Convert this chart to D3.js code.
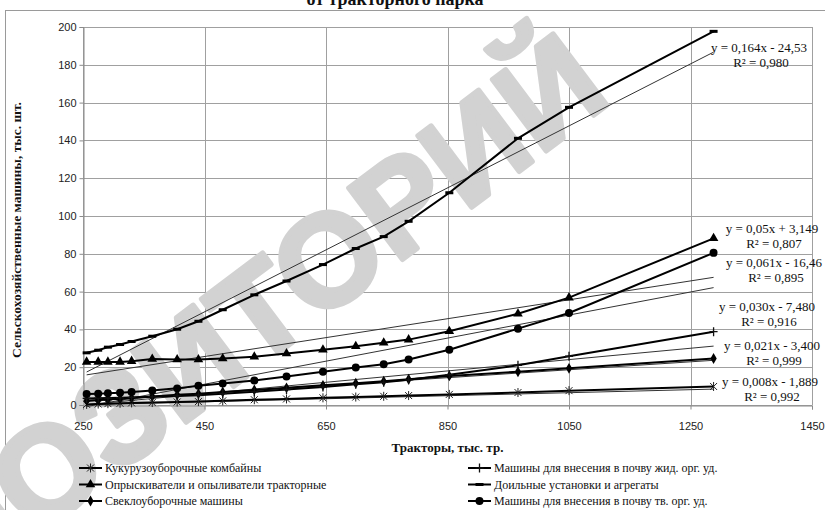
<!DOCTYPE html>
<html>
<head>
<meta charset="utf-8">
<script src="https://cdn.jsdelivr.net/npm/d3@7"></script>
<style>
  html, body { margin: 0; padding: 0; background: #fff; }
  svg { display: block; }
  .tick-label { font-family: 'Liberation Sans', Arial, sans-serif; font-size: 11px; fill: #222; }
  .serif { font-family: 'Liberation Serif', 'Times New Roman', serif; fill: #111; }
</style>
</head>
<body>
<div id="chart"></div>
<script>
// данные: тракторы (тыс.) и машины (тыс. шт.)
const tractors = [256, 275, 291, 311, 330, 364, 405, 440, 480, 532, 585, 645, 699, 745, 786, 853, 966, 1050, 1288];

const cornHarvesters = [0.3, 0.5, 0.7, 0.9, 1.1, 1.3, 1.6, 1.8, 2.2, 2.8, 3.2, 3.8, 4.2, 4.6, 5.0, 5.6, 6.6, 7.6, 9.8];
const sprayers = [22.8, 22.8, 22.8, 22.8, 23.2, 24.3, 24.1, 24.1, 24.6, 25.5, 27.2, 29.2, 31.1, 32.9, 34.6, 39.0, 48.3, 56.8, 88.2];
const beetHarvesters = [2.3, 2.6, 2.9, 3.3, 3.7, 4.5, 5.4, 6.0, 6.9, 8.0, 9.1, 10.4, 11.5, 12.6, 13.6, 15.4, 17.6, 19.4, 24.6];
const liquidSpreaders = [3.5, 3.6, 3.7, 3.8, 4.0, 4.3, 4.8, 5.2, 6.0, 7.0, 8.2, 9.5, 11.0, 12.0, 13.3, 16.0, 21.0, 25.8, 38.8];
const milkingUnits = [27.6, 29.0, 30.6, 32.0, 33.6, 36.4, 40.1, 44.3, 50.4, 58.3, 65.6, 74.3, 82.8, 89.1, 97.2, 112.3, 141.1, 157.5, 197.7];
const solidSpreaders = [5.8, 6.0, 6.2, 6.5, 6.9, 7.7, 8.8, 10.2, 11.4, 13.0, 15.1, 17.6, 19.9, 21.6, 24.1, 29.2, 40.4, 48.7, 80.5];

const seriesNames = [
  'Кукурузоуборочные комбайны',
  'Опрыскиватели и опыливатели тракторные',
  'Свеклоуборочные машины',
  'Машины для внесения в почву жид. орг. уд.',
  'Доильные установки и агрегаты',
  'Машины для внесения в почву тв. орг. уд.',
];
const seriesMarkers = ['star', 'triangle', 'diamond', 'plus', 'dash', 'circle'];

// линейные тренды (как подписаны на графике)
const trendSlope = [0.008, 0.05, 0.021, 0.03, 0.164, 0.061];
const trendIntercept = [-1.889, 3.149, -3.4, -7.48, -24.53, -16.46];
const trendEquation = [
  'y = 0,008x - 1,889',
  'y = 0,05x + 3,149',
  'y = 0,021x - 3,400',
  'y = 0,030x - 7,480',
  'y = 0,164x - 24,53',
  'y = 0,061x - 16,46',
];
const trendR2 = ['R² = 0,992', 'R² = 0,807', 'R² = 0,999', 'R² = 0,916', 'R² = 0,980', 'R² = 0,895'];

const xTicks = [250, 450, 650, 850, 1050, 1250, 1450];
const yTicks = [0, 20, 40, 60, 80, 100, 120, 140, 160, 180, 200];

const values = [cornHarvesters, sprayers, beetHarvesters, liquidSpreaders, milkingUnits, solidSpreaders];

const W = 825, H = 510;
const plot = { left: 83, right: 812, top: 27, bottom: 405 };

// размещение подписей уравнений
const eqPos = [[770, 382], [772, 229], [772, 346], [767, 307], [759, 48], [774, 263]];

const svg = d3
  .select('#chart')
  .append('svg')
  .attr('width', W)
  .attr('height', H);

const x = d3.scaleLinear().domain([250, 1450]).range([plot.left, plot.right]);
const y = d3.scaleLinear().domain([0, 200]).range([plot.bottom, plot.top]);

// рамка диаграммы
svg
  .append('rect')
  .attr('x', 5.5)
  .attr('y', 10.5)
  .attr('width', 830)
  .attr('height', 520)
  .attr('fill', 'none')
  .attr('stroke', '#9a9a9a');

// обрезанный заголовок
svg
  .append('text')
  .attr('class', 'serif')
  .attr('x', 395)
  .attr('y', 5)
  .attr('text-anchor', 'middle')
  .style('font-size', '18px')
  .style('font-weight', 'bold')
  .text('от тракторного парка');

// сетка
const grid = svg.append('g').attr('class', 'grid');
grid
  .selectAll('line.h')
  .data(yTicks)
  .enter()
  .append('line')
  .attr('class', 'h')
  .attr('x1', plot.left)
  .attr('x2', plot.right)
  .attr('y1', (d) => Math.round(y(d)) + 0.5)
  .attr('y2', (d) => Math.round(y(d)) + 0.5)
  .attr('stroke', '#a0a0a0');
grid
  .selectAll('line.v')
  .data(xTicks)
  .enter()
  .append('line')
  .attr('class', 'v')
  .attr('x1', (d) => Math.round(x(d)) + 0.5)
  .attr('x2', (d) => Math.round(x(d)) + 0.5)
  .attr('y1', plot.top)
  .attr('y2', plot.bottom)
  .attr('stroke', '#a0a0a0');

// водяной знак
svg
  .append('text')
  .attr('transform', 'translate(614,100) rotate(-37)')
  .attr('text-anchor', 'end')
  .style('font-family', "'Liberation Sans', Arial, sans-serif")
  .style('font-weight', 'bold')
  .style('font-size', '130px')
  .attr('fill', '#d2d2d2')
  .attr('stroke', '#d2d2d2')
  .attr('stroke-width', 5)
  .attr('stroke-linejoin', 'round')
  .text('РЕПОЗИТОРИЙ');

// оси
const yAxis = svg
  .append('g')
  .attr('transform', `translate(${plot.left + 0.5},0)`)
  .call(d3.axisLeft(y).tickValues(yTicks).tickSize(4).tickPadding(3));
const xAxis = svg
  .append('g')
  .attr('transform', `translate(0,${plot.bottom + 0.5})`)
  .call(d3.axisBottom(x).tickValues(xTicks).tickFormat(d3.format('d')).tickSize(4).tickPadding(13));
[yAxis, xAxis].forEach((a) => {
  a.select('.domain').attr('stroke', '#8a8a8a');
  a.selectAll('.tick line').attr('stroke', '#8a8a8a');
  a.selectAll('.tick text')
    .attr('class', 'tick-label')
    .attr('fill', null);
});

// линии трендов
const trends = svg.append('g').attr('class', 'trends');
trendSlope.forEach((k, i) => {
  const x0 = d3.min(tractors),
    x1 = d3.max(tractors);
  trends
    .append('line')
    .attr('x1', x(x0))
    .attr('y1', y(k * x0 + trendIntercept[i]))
    .attr('x2', x(x1))
    .attr('y2', y(k * x1 + trendIntercept[i]))
    .attr('stroke', '#333')
    .attr('stroke-width', 1);
});

// маркеры
const drawMarker = (g, type, cx, cy) => {
  if (type === 'star') {
    g.append('path')
      .attr('d', `M${cx - 3.5},${cy - 3.5}L${cx + 3.5},${cy + 3.5}M${cx - 3.5},${cy + 3.5}L${cx + 3.5},${cy - 3.5}M${cx},${cy - 4.5}L${cx},${cy + 4.5}`)
      .attr('stroke', '#222')
      .attr('stroke-width', 1);
  } else if (type === 'plus') {
    g.append('path')
      .attr('d', `M${cx - 4},${cy}L${cx + 4},${cy}M${cx},${cy - 4.5}L${cx},${cy + 4.5}`)
      .attr('stroke', '#111')
      .attr('stroke-width', 1.3);
  } else if (type === 'dash') {
    g.append('rect')
      .attr('x', cx - 4)
      .attr('y', cy - 1.5)
      .attr('width', 8)
      .attr('height', 3)
      .attr('fill', '#000');
  } else {
    const sym = { triangle: d3.symbolTriangle, diamond: d3.symbolDiamond, circle: d3.symbolCircle }[type];
    const size = { triangle: 40, diamond: 34, circle: 50 }[type];
    g.append('path')
      .attr('transform', `translate(${cx},${cy})`)
      .attr('d', d3.symbol().type(sym).size(size)())
      .attr('fill', '#000');
  }
};

// ряды данных
const line = d3
  .line()
  .x((d) => x(d[0]))
  .y((d) => y(d[1]));

values.forEach((vals, i) => {
  const pts = tractors.map((t, j) => [t, vals[j]]);
  const g = svg.append('g').attr('class', 'series');
  g.append('path')
    .attr('d', line(pts))
    .attr('fill', 'none')
    .attr('stroke', '#000')
    .attr('stroke-width', 2);
  pts.forEach((p) => drawMarker(g, seriesMarkers[i], x(p[0]), y(p[1])));
});

// подписи уравнений
const eqG = svg.append('g').attr('class', 'equations');
trendEquation.forEach((eq, i) => {
  const [ex, ey] = eqPos[i];
  eqG.append('text')
    .attr('class', 'serif')
    .attr('x', ex)
    .attr('y', ey + 4)
    .attr('text-anchor', 'middle')
    .style('font-size', '13px')
    .text(eq);
  eqG.append('text')
    .attr('class', 'serif')
    .attr('x', ex + 2)
    .attr('y', ey + 19)
    .attr('text-anchor', 'middle')
    .style('font-size', '13px')
    .text(trendR2[i]);
});

// подписи осей
svg
  .append('text')
  .attr('class', 'serif')
  .attr('transform', 'translate(21,230) rotate(-90)')
  .attr('text-anchor', 'middle')
  .style('font-size', '13.5px')
  .style('font-weight', 'bold')
  .text('Сельскохозяйственные машины, тыс. шт.');

svg
  .append('text')
  .attr('class', 'serif')
  .attr('x', (plot.left + plot.right) / 2)
  .attr('y', 452)
  .attr('text-anchor', 'middle')
  .style('font-size', '13px')
  .style('font-weight', 'bold')
  .text('Тракторы, тыс. тр.');

// легенда
const legend = svg.append('g').attr('class', 'legend');
seriesNames.forEach((name, i) => {
  const col = i < 3 ? 0 : 1,
    row = i % 3;
  const lx = col === 0 ? 79 : 468,
    ly = 468 + row * 16.5;
  const g = legend.append('g');
  g.append('line')
    .attr('x1', lx)
    .attr('x2', lx + 23)
    .attr('y1', ly)
    .attr('y2', ly)
    .attr('stroke', '#000')
    .attr('stroke-width', 2);
  drawMarker(g, seriesMarkers[i], lx + 11.5, ly);
  g.append('text')
    .attr('class', 'serif')
    .attr('x', lx + 26)
    .attr('y', ly + 4)
    .style('font-size', '12px')
    .text(name);
});
</script>
</body>
</html>
